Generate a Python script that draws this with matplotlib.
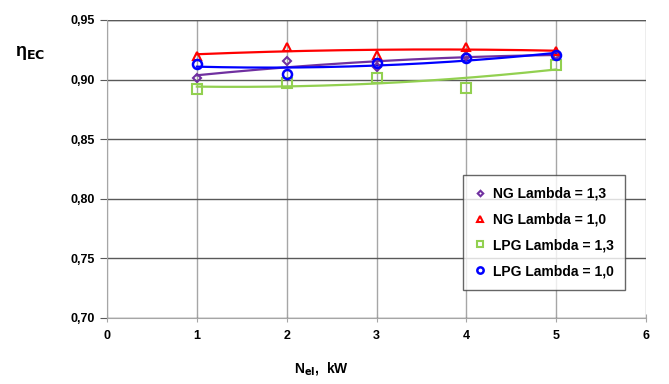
import numpy as np
import matplotlib.pyplot as plt
from matplotlib.ticker import FuncFormatter

# measured efficiency vs. electrical power
power = [1, 2, 3, 4, 5]
ng_13 = [0.9017, 0.9156, 0.9108, 0.9195, 0.9210]
ng_10 = [0.9200, 0.9276, 0.9207, 0.9270, 0.9240]
lpg_13 = [0.8920, 0.8970, 0.9010, 0.8930, 0.9120]
lpg_10 = [0.9130, 0.9050, 0.9140, 0.9180, 0.9210]
labels = ["NG Lambda = 1,3", "NG Lambda = 1,0", "LPG Lambda = 1,3", "LPG Lambda = 1,0"]

plt.rcParams['font.family'] = ['Liberation Sans', 'DejaVu Sans']
plt.rcParams['font.weight'] = 'bold'

fig = plt.figure(figsize=(6.69, 3.84), dpi=100)
ax = fig.add_axes([0.160, 0.172, 0.8056, 0.776])

series = [
    (ng_13, '#7030A0', 'D', 4, 1.5),
    (ng_10, '#FF0000', '^', 6, 1.5),
    (lpg_13, '#92D050', 's', 6.5, 1.5),
    (lpg_10, '#0000FF', 'o', 6.5, 1.8),
]

xs = np.linspace(1, 5, 200)
for (vals, col, mk, ms, mew), lab in zip(series, labels):
    # trend line (2nd order polynomial) through the measured points
    coef = np.polyfit(power, vals, 2)
    ax.plot(xs, np.polyval(coef, xs), color=col, lw=1.6, zorder=3)
    ax.plot(power, vals, linestyle='none', marker=mk, ms=ms, mfc='none',
            mec=col, mew=mew, label=lab, zorder=4)

ax.set_xlim(0, 6)
ax.set_ylim(0.70, 0.95)
ax.set_xticks(range(0, 7))
ax.set_yticks(np.arange(0.70, 0.951, 0.05))
ax.yaxis.set_major_formatter(FuncFormatter(lambda v, p: f"{v:.2f}".replace('.', ',')))
ax.xaxis.grid(True, color='#A6A6A6', lw=1.0)
ax.yaxis.grid(True, color='#595959', lw=1.0)
ax.set_axisbelow(True)
for s in ['right', 'top']:
    ax.spines[s].set_visible(False)
ax.spines['left'].set_color('#A6A6A6')
ax.spines['bottom'].set_color('#A6A6A6')
ax.axhline(0.95, color='#595959', lw=1.0, zorder=1)
ax.tick_params(axis='x', direction='inout', length=6, color='#A6A6A6', labelsize=9, pad=6)
ax.tick_params(axis='y', direction='out', length=5, color='#595959', labelsize=9, pad=4)
for t in ax.get_xticklabels() + ax.get_yticklabels():
    t.set_fontweight('bold')

fig.text(0.022, 0.855, r"$\mathregular{\eta}_{\mathbf{EC}}$", fontsize=13)
fig.text(0.44, 0.03, r"N$_{\mathbf{el}}$,  kW", fontsize=10, fontweight='bold')

leg = ax.legend(loc='upper left', bbox_to_anchor=(0.660, 0.48), frameon=True,
                fancybox=False, edgecolor='#404040', fontsize=10, handlelength=0.8,
                handletextpad=0.5, labelspacing=0.85, borderpad=0.85, markerscale=0.7,
                borderaxespad=0)
leg.get_frame().set_linewidth(1.0)
for t in leg.get_texts():
    t.set_fontweight('bold')

fig.savefig('out.png', dpi=100)
